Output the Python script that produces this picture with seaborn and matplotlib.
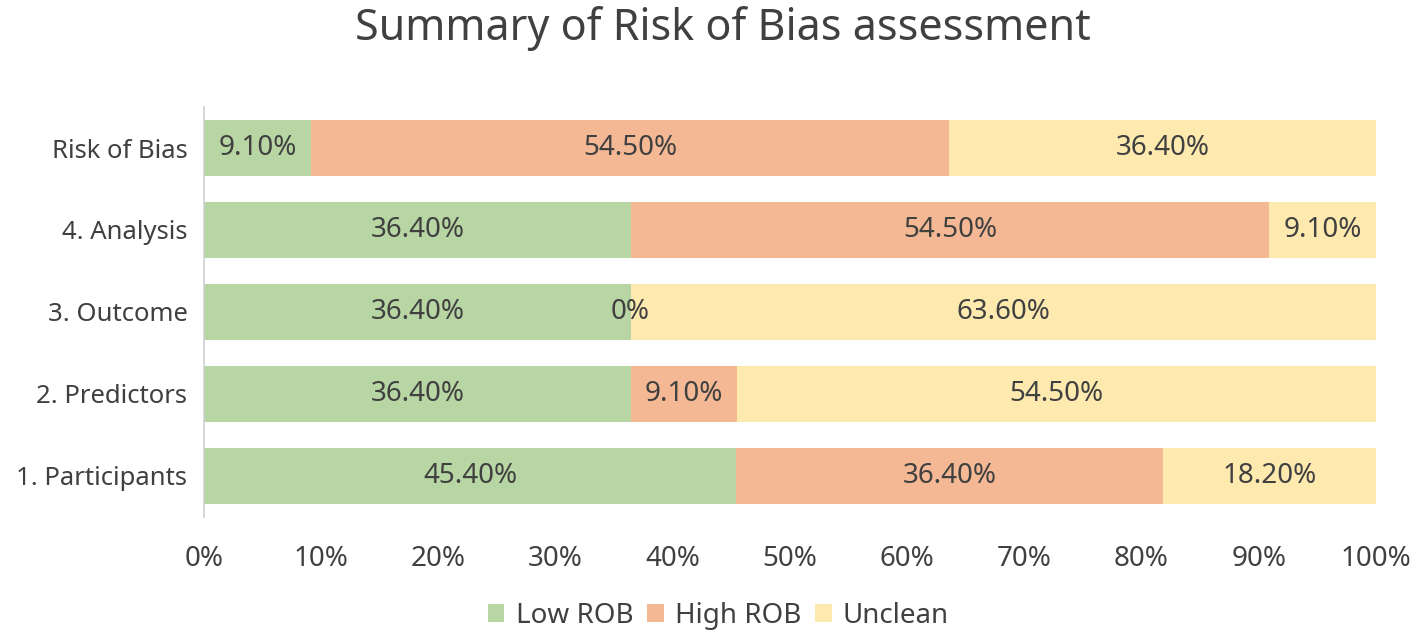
import matplotlib
matplotlib.use("Agg")
import matplotlib.pyplot as plt
import seaborn as sns
import pandas as pd
import numpy as np
from matplotlib.patches import Patch

categories = ["Risk of Bias", "4. Analysis", "3. Outcome", "2. Predictors", "1. Participants"]
low_rob = [9.1, 36.4, 36.4, 36.4, 45.4]
high_rob = [54.5, 54.5, 0.0, 9.1, 36.4]
unclean = [36.4, 9.1, 63.6, 54.5, 18.2]
series_names = ["Low ROB", "High ROB", "Unclean"]
colors = ["#B7D6A3", "#F4B994", "#FEE9AF"]
xticks = [0, 10, 20, 30, 40, 50, 60, 70, 80, 90, 100]

sns.set_theme(style="white")
plt.rcParams['font.family'] = ['Noto Sans', 'DejaVu Sans']
text_color = "#404040"
fs = 20

df = pd.DataFrame({"cat": categories, "low": low_rob, "high": high_rob, "unc": unclean})
df["c1"] = df["low"]
df["c2"] = df["low"] + df["high"]
df["c3"] = df["low"] + df["high"] + df["unc"]

fig = plt.figure(figsize=(14.17, 6.37), dpi=100)
ax = fig.add_axes([0.144, 0.1885, 0.827, 0.6435])

for col, color in zip(["c3", "c2", "c1"], [colors[2], colors[1], colors[0]]):
    sns.barplot(data=df, x=col, y="cat", order=categories, color=color,
                width=0.68, ax=ax, saturation=1, edgecolor="none", linewidth=0)

# labels
for i, cat in enumerate(categories):
    start = 0.0
    for vals in (low_rob, high_rob, unclean):
        v = vals[i]
        lab = "0%" if v == 0 else f"{v:.2f}%"
        ax.text(start + v / 2, i, lab, ha="center", va="center",
                fontsize=fs, color=text_color)
        start += v

ax.set_xlim(0, 100)
ax.set_ylim(4.5, -0.5)
ax.set_xticks(xticks)
ax.set_xticklabels([f"{t}%" for t in xticks], fontsize=fs, color=text_color)
ax.tick_params(axis="y", labelsize=18.5, labelcolor=text_color, length=0, pad=12)
ax.tick_params(axis="x", length=0, pad=20)
ax.set_xlabel("")
ax.set_ylabel("")
for s in ["top", "right", "bottom"]:
    ax.spines[s].set_visible(False)
ax.spines["left"].set_color("#D0D0D0")
ax.spines["left"].set_linewidth(1.2)

fig.suptitle("Summary of Risk of Bias assessment", fontsize=31, color=text_color,
             x=0.51, y=0.99)

handles = [Patch(facecolor=c, edgecolor="none", label=n) for c, n in zip(colors, series_names)]
fig.legend(handles=handles, loc="center", bbox_to_anchor=(0.507, 0.033), ncol=3,
           frameon=False, fontsize=fs, handlelength=0.6, handleheight=0.6,
           handletextpad=0.4, columnspacing=0.5, labelcolor=text_color)

fig.savefig("out.png", dpi=100)
